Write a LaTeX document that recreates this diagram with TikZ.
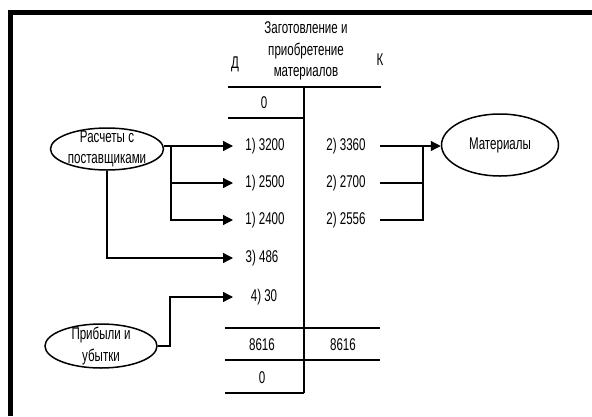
\documentclass[tikz,border=0pt]{standalone}
\usepackage{fontspec}
\setmainfont{Liberation Sans}[FakeStretch=0.68]
\usetikzlibrary{arrows.meta,shapes.geometric}

\begin{document}
\begin{tikzpicture}[x=1pt,y=-1pt,line width=1.3pt,
        font=\fontsize{17}{21.5}\selectfont,
        acc/.style={draw,ellipse,line width=1.5pt,inner sep=0pt},
        arr/.style={-{Triangle[length=10pt,width=10pt]}},
        bal/.style={line width=2.6pt}]
        \useasboundingbox (0,0) rectangle (592,416);
        % рамка
        \draw[line width=5pt] (10.5,416) -- (10.5,12.5) -- (592,12.5);

        % счёт
        \node[align=center] (title) at (306,51) {Заготовление и\\приобретение\\материалов};
        \node (deb) at (235,64) {Д};
        \node (cred) at (380,60) {К};
        \draw[bal] (228,87) -- (381,87);
        \draw[bal] (304,87) -- (304,393);
        \draw[bal] (228,118) -- (304,118);
        \draw[bal] (225,328) -- (380,328);
        \draw[bal] (225,360) -- (380,360);
        \draw[bal] (225,393) -- (304,393);

        % записи
        \node (s0) at (264,103) {0};
        \node (d1) at (265,146) {1) 3200};
        \node (d2) at (265,183) {1) 2500};
        \node (d3) at (265,220) {1) 2400};
        \node (d4) at (262,258) {3) 486};
        \node (d5) at (264,297) {4) 30};
        \node (k1) at (346,146) {2) 3360};
        \node (k2) at (346,183) {2) 2700};
        \node (k3) at (346,220) {2) 2556};
        \node (od) at (262,345) {8616};
        \node (ok) at (343,345) {8616};
        \node (s1) at (262,378) {0};

        % корреспондирующие счета
        \node[acc,minimum width=113pt,minimum height=42pt] (rs) at (107,149) {};
        \node[align=center] (rst) at (rs) {Расчеты с\\поставщиками};
        \node[acc,minimum width=112pt,minimum height=44pt] (pu) at (101,346) {};
        \node[align=center] (put) at (pu) {Прибыли и\\убытки};
        \node[acc,minimum width=117pt,minimum height=62pt] (mat) at (500,145) {};
        \node (matt) at (mat) {Материалы};

        % стрелки
        \coordinate (dtip) at (233,0);
        \coordinate (jl) at (171,0);
        \coordinate (jp) at (170,0);
        \coordinate (kx) at (380,0);
        \coordinate (jr) at (423,0);
        \draw[arr] (rs.east |- d1) -- (d1 -| dtip);
        \draw[arr] (jl |- d1) |- (d2 -| dtip);
        \draw[arr] (jl |- d2) |- (d3 -| dtip);
        \draw[arr] (rs.south) |- (d4 -| dtip);
        \draw[arr] (pu.east) -- (pu.east -| jp) |- (d5 -| dtip);
        \draw[arr] (k1 -| kx) -- (mat.west |- k1);
        \draw (k2 -| kx) -| (jr |- k1);
        \draw (k3 -| kx) -| (jr |- k2);
    \end{tikzpicture}
\end{document}
